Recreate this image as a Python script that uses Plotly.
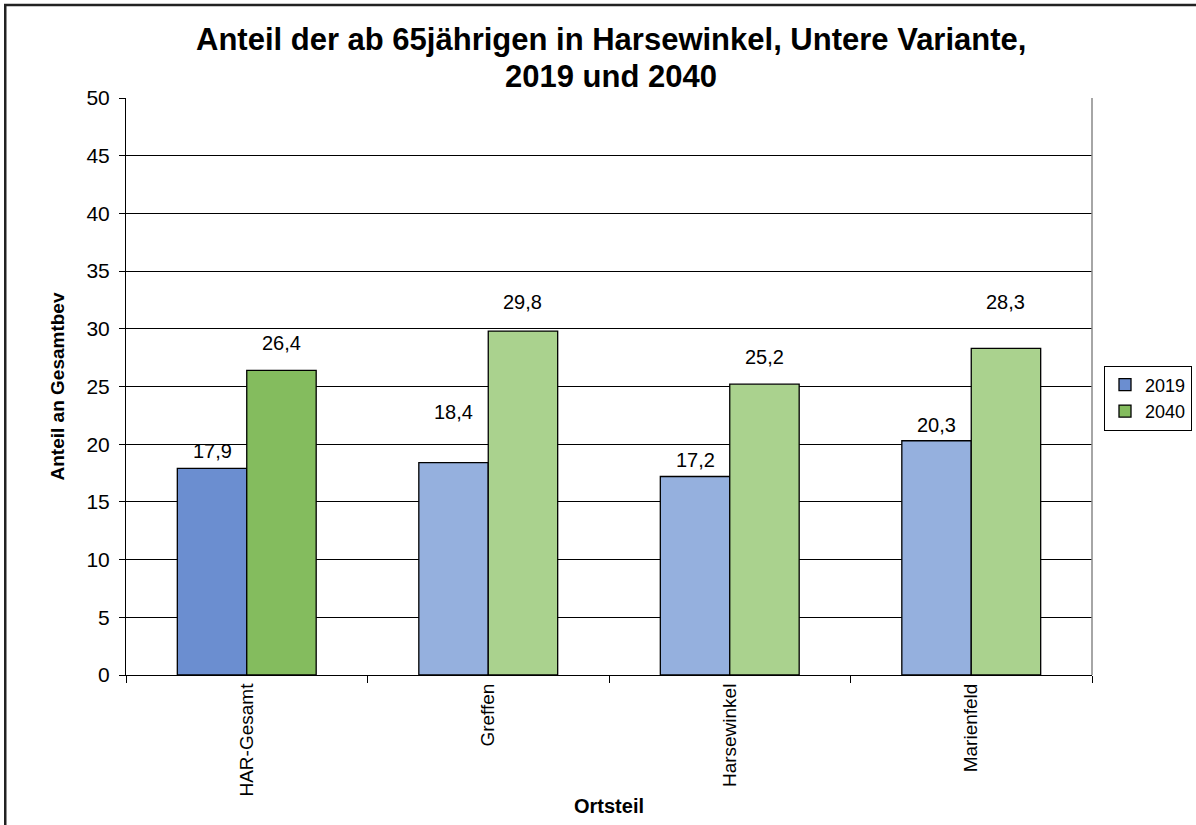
import plotly.graph_objects as go

categories = ["HAR-Gesamt", "Greffen", "Harsewinkel", "Marienfeld"]
values_2019 = [17.9, 18.4, 17.2, 20.3]
values_2040 = [26.4, 29.8, 25.2, 28.3]
colors_2019 = ["#6B8ED0", "#95B0DE", "#95B0DE", "#95B0DE"]
colors_2040 = ["#84BC5E", "#AAD28E", "#AAD28E", "#AAD28E"]
# pixel offsets of the value labels above the bar tops
label_shift_2019 = [17, 51, 17, 16]
label_shift_2040 = [27, 29, 27, 46]
title_lines = ["Anteil der ab 65jährigen in Harsewinkel, Untere Variante,", "2019 und 2040"]

FONT = "Liberation Sans, Arial, sans-serif"
BARGAP = 0.425
half = (1 - BARGAP) / 4
PLOT_H = 577

fig = go.Figure()
fig.add_trace(go.Bar(name="2019", x=categories, y=values_2019,
                     marker=dict(color=colors_2019, line=dict(color="black", width=1.3))))
fig.add_trace(go.Bar(name="2040", x=categories, y=values_2040,
                     marker=dict(color=colors_2040, line=dict(color="black", width=1.3))))

def fmt(v):
    return f"{v:.1f}".replace(".", ",")

for i, (a, b) in enumerate(zip(values_2019, values_2040)):
    fig.add_annotation(x=i - half, y=a, text=fmt(a), showarrow=False, yanchor="middle",
                       yshift=label_shift_2019[i], font=dict(size=20, color="black", family=FONT))
    fig.add_annotation(x=i + half, y=b, text=fmt(b), showarrow=False, yanchor="middle",
                       yshift=label_shift_2040[i], font=dict(size=20, color="black", family=FONT))

# title (two lines placed individually)
for line, ypix in zip(title_lines, [40, 76]):
    fig.add_annotation(text=f"<b>{line}</b>", xref="paper", yref="paper",
                       x=(612 - 126) / 968, y=(675 - ypix) / PLOT_H, xanchor="center",
                       yanchor="middle", showarrow=False,
                       font=dict(size=31, color="black", family=FONT))

fig.add_annotation(text="<b>Ortsteil</b>", xref="paper", yref="paper", x=0.5, y=-0.227,
                   yanchor="middle", showarrow=False, font=dict(size=20, color="black", family=FONT))

fig.update_layout(
    width=1196, height=825,
    margin=dict(l=126, r=102, t=98, b=150),
    paper_bgcolor="white", plot_bgcolor="white",
    font=dict(family=FONT, color="black", size=19),
    barmode="group", bargap=BARGAP, bargroupgap=0,
    showlegend=True,
    legend=dict(xref="container", yref="container", x=1104 / 1196, y=1 - 398 / 825,
                xanchor="left", yanchor="middle",
                bordercolor="black", borderwidth=1, bgcolor="white",
                font=dict(size=18, color="black", family=FONT),
                itemwidth=30, tracegroupgap=0),
    xaxis=dict(showline=True, linecolor="black", linewidth=1, ticks="outside", ticklen=7,
               tickcolor="black", tickson="boundaries", tickangle=-90,
               tickfont=dict(size=19, color="black", family=FONT), showgrid=False),
    yaxis=dict(range=[0, 50], dtick=5, showline=True, linecolor="black", linewidth=1,
               ticks="outside", ticklen=6, tickcolor="black", gridcolor="black", gridwidth=1,
               ticklabelstandoff=5,
               tickfont=dict(size=21, color="black", family=FONT), zeroline=False,
               title=dict(text="<b>Anteil an Gesamtbev</b>", standoff=16,
                          font=dict(size=19, color="black", family=FONT))),
    shapes=[
        dict(type="line", xref="paper", yref="paper", x0=1, x1=1, y0=0, y1=1,
             line=dict(color="#888888", width=1.5)),
        dict(type="rect", xref="paper", yref="paper", x0=-121 / 968, x1=1.2,
             y0=-0.5, y1=1 + 93 / 577, line=dict(color="#222222", width=2.5)),
    ],
)

fig.write_html("out.html", config={"displayModeBar": False},
               post_script="document.body.style.margin='0px';")
